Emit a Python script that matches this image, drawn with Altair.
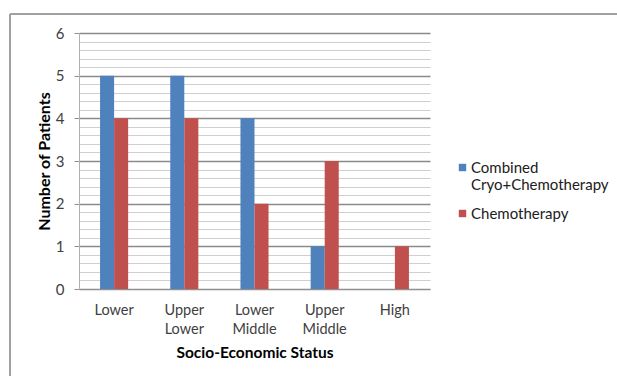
import altair as alt
import pandas as pd

categories = ["Lower", "Upper Lower", "Lower Middle", "Upper Middle", "High"]
series_names = ["Combined Cryo+Chemotherapy", "Chemotherapy"]
combined = [5, 5, 4, 1, 0]
chemo = [4, 4, 2, 3, 1]
y_ticks = [0, 0.2, 0.4, 0.6, 0.8, 1, 1.2, 1.4, 1.6, 1.8, 2, 2.2, 2.4, 2.6, 2.8, 3,
           3.2, 3.4, 3.6, 3.8, 4, 4.2, 4.4, 4.6, 4.8, 5, 5.2, 5.4, 5.6, 5.8, 6]
colors = ["#4F81BD", "#C0504D"]

rows = []
for c, v in zip(categories, combined):
    rows.append({"status": c, "series": series_names[0], "patients": v})
for c, v in zip(categories, chemo):
    rows.append({"status": c, "series": series_names[1], "patients": v})
df = pd.DataFrame(rows)

FONT = "Lato"
is_int = "abs(datum.value - round(datum.value)) < 0.001"

bars = alt.Chart(df).mark_bar(clip=False).encode(
    x=alt.X("status:N", sort=categories,
            scale=alt.Scale(paddingInner=0.6, paddingOuter=0.3),
            axis=alt.Axis(title="Socio-Economic Status", labelAngle=0,
                          labelExpr="split(datum.label, ' ')",
                          labelLineHeight=19, labelPadding=14, labelBaseline="top",
                          labelFontSize=14.5, labelColor="#404040", labelFont=FONT,
                          ticks=False, domainColor="#909090", domainWidth=1,
                          titleFont=FONT, titleFontSize=15.5, titleFontWeight="bold",
                          titleColor="#000000", titlePadding=10, grid=False)),
    xOffset=alt.XOffset("series:N", sort=series_names,
                        scale=alt.Scale(paddingInner=0, paddingOuter=0)),
    y=alt.Y("patients:Q", scale=alt.Scale(domain=[0, 6], nice=False),
            axis=alt.Axis(title="Number of Patients", values=y_ticks,
                          labelExpr="abs(datum.value - round(datum.value)) < 0.001 ? format(datum.value, 'd') : ''",
                          labelFontSize=15, labelColor="#404040", labelFont=FONT,
                          labelPadding=10,
                          tickSize=5, tickColor="#909090",
                          tickOpacity={"condition": {"test": is_int, "value": 1}, "value": 0},
                          domainColor="#b0b0b0",
                          gridColor={"condition": {"test": is_int, "value": "#8a8a8a"}, "value": "#cfcfcf"},
                          gridWidth={"condition": {"test": is_int, "value": 1.3}, "value": 1},
                          titleFont=FONT, titleFontSize=16, titleFontWeight="bold",
                          titleColor="#000000", titlePadding=3)),
    color=alt.Color("series:N", sort=series_names,
                    scale=alt.Scale(domain=series_names, range=colors),
                    legend=alt.Legend(title=None, orient="none", legendX=376, legendY=127,
                                      symbolType="square", symbolSize=55, symbolStrokeWidth=0,
                                      labelExpr="split(datum.label, ' ')",
                                      labelFont=FONT, labelFontSize=15, labelColor="#202020",
                                      labelLimit=300,
                                      labelBaseline="middle", rowPadding=13,
                                      symbolOffset=0, labelOffset=1)),
)

frame_top = alt.Chart(df).mark_rule(color="#a0a0a0", strokeWidth=1).encode(
    x=alt.value(-69), x2=alt.value(540), y=alt.value(-19))
frame_left = alt.Chart(df).mark_rule(color="#a0a0a0", strokeWidth=1).encode(
    x=alt.value(-69), y=alt.value(-19), y2=alt.value(350))

chart = alt.layer(bars, frame_top, frame_left).properties(
    width=351, height=256,
    autosize=alt.AutoSizeParams(type="none"),
    padding={"left": 79, "top": 33, "right": 187, "bottom": 87},
).configure_view(stroke=None)

chart.save("out.html", embed_options={"renderer": "svg", "actions": False})
